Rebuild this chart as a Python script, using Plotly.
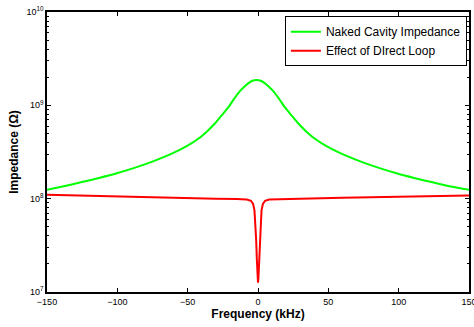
import plotly.graph_objects as go

# Naked cavity impedance (green), frequency in kHz
freq_cavity = [-150, -139, -126, -113, -101, -89, -78, -68, -59, -51, -44, -37, -31, -26, -21,
               -17, -13, -10, -7, -4, -1,
               2, 5, 8, 11, 15, 19, 24, 29, 35, 42, 49, 57, 66, 76, 87, 99, 111, 124, 137, 150]
z_cavity = [1.242e8, 1.349e8, 1.496e8, 1.667e8, 1.86e8, 2.11e8, 2.40e8, 2.75e8, 3.16e8, 3.63e8,
            4.22e8, 5.13e8, 6.31e8, 7.76e8, 9.55e8, 1.175e9, 1.413e9, 1.567e9, 1.718e9, 1.832e9,
            1.871e9,
            1.832e9, 1.718e9, 1.567e9, 1.413e9, 1.175e9, 9.55e8, 7.76e8, 6.31e8, 5.13e8, 4.22e8,
            3.63e8, 3.16e8, 2.75e8, 2.40e8, 2.11e8, 1.86e8, 1.667e8, 1.496e8, 1.349e8, 1.242e8]

# Effect of direct loop (red)
freq_loop = [-150, -120, -90, -60, -30, -15, -8, -5, -3.5, -2.5, -1.8, -1.3, -0.8, -0.3, 0,
             0.3, 0.8, 1.3, 1.8, 2.5, 3.5, 5, 8, 15, 30, 60, 90, 120, 150]
z_loop = [1.10e8, 1.07e8, 1.04e8, 1.02e8, 1.00e8, 9.9e7, 9.8e7, 9.5e7, 8.8e7, 7.5e7, 5.5e7, 3.6e7,
          2.2e7, 1.4e7, 1.26e7,
          1.4e7, 2.2e7, 3.6e7, 5.5e7, 7.5e7, 8.8e7, 9.5e7, 9.8e7, 9.9e7, 1.0e8, 1.02e8, 1.04e8,
          1.06e8, 1.08e8]

x_ticks = [-150, -100, -50, 0, 50, 100, 150]
x_tick_text = ["\u2212150", "\u2212100", "\u221250", "0", "50", "100", "150"]
y_ticks = [1e7, 1e8, 1e9, 1e10]
y_tick_text = ["10<sup>7</sup>", "10<sup>8</sup>", "10<sup>9</sup>", "10<sup>10</sup>"]
y_minor = [m * 10 ** e for e in (7, 8, 9) for m in range(2, 10)]

FONT = "Liberation Sans, Arial, sans-serif"

fig = go.Figure()
fig.add_trace(go.Scatter(x=freq_cavity, y=z_cavity, mode="lines",
                         line=dict(color="#00ff00", width=2, shape="spline", smoothing=0.8),
                         name="Naked Cavity Impedance"))
fig.add_trace(go.Scatter(x=freq_loop, y=z_loop, mode="lines",
                         line=dict(color="#ff0000", width=2),
                         name="Effect of DIrect Loop"))

fig.update_layout(
    width=474, height=327,
    margin=dict(l=47, r=5, t=12, b=35),
    paper_bgcolor="white", plot_bgcolor="white",
    font=dict(family=FONT, color="black", size=9),
    showlegend=True,
    legend=dict(x=0.995, y=0.985, xanchor="right", yanchor="top",
                bordercolor="black", borderwidth=1, bgcolor="white",
                font=dict(size=12, family=FONT), tracegroupgap=0,
                itemwidth=30),
)
fig.update_xaxes(
    range=[-150, 150], tickvals=x_ticks, ticktext=x_tick_text,
    ticklabeloverflow="allow", automargin=False,
    ticks="inside", ticklen=4, tickcolor="black", showline=True, linecolor="black",
    linewidth=1.5, mirror="ticks", showgrid=False, zeroline=False,
    title=dict(text="<b>Frequency (kHz)</b>", font=dict(size=12, family=FONT), standoff=3),
    tickfont=dict(size=9, family=FONT),
)
fig.update_yaxes(
    type="log", range=[7, 10], tickvals=y_ticks, ticktext=y_tick_text,
    ticklabeloverflow="allow", automargin=False,
    ticks="inside", ticklen=4, tickcolor="black", showline=True, linecolor="black",
    linewidth=1.5, mirror="ticks", showgrid=False, zeroline=False,
    minor=dict(ticks="inside", ticklen=2, tickcolor="black", showgrid=False,
               tickmode="array", tickvals=y_minor),
    title=dict(text="<b>Impedance (\u03a9)</b>", font=dict(size=12, family=FONT), standoff=5),
    tickfont=dict(size=9, family=FONT),
)

fig.write_html("out.html")
